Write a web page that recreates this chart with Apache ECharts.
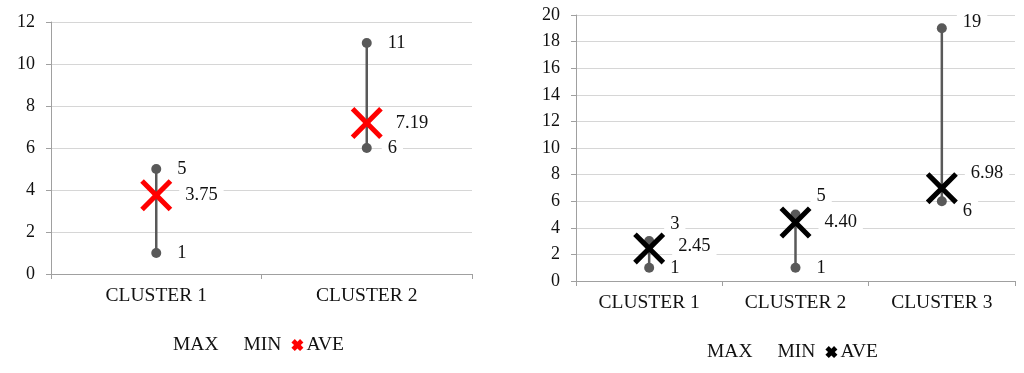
<!DOCTYPE html>
<html>
<head>
<meta charset="utf-8">
<script src="https://cdn.jsdelivr.net/npm/echarts@6/dist/echarts.min.js"></script>
<style>
  html, body { margin: 0; padding: 0; background: #fff; }
  #chart { width: 1024px; height: 373px; }
</style>
</head>
<body>
<div id="chart"></div>
<script>
// ---- data (left chart) ----
const leftCategories = ['CLUSTER 1', 'CLUSTER 2'];
const leftMax = [5, 11];
const leftMin = [1, 6];
const leftAve = [3.75, 7.19];
const leftTicks = { min: 0, max: 12, interval: 2 };

// ---- data (right chart) ----
const rightCategories = ['CLUSTER 1', 'CLUSTER 2', 'CLUSTER 3'];
const rightMax = [3, 5, 19];
const rightMin = [1, 1, 6];
const rightAve = [2.45, 4.40, 6.98];
const rightTicks = { min: 0, max: 20, interval: 2 };

const legendNames = ['MAX', 'MIN', 'AVE'];

// ---- styling / layout (not data) ----
const FONT = 'Liberation Serif';
const TEXT = '#111111';
const GRAY = '#595959';
const AXIS = '#a0a0a0';
const GRID = '#d6d6d6';
const X_PATH = 'path://M0,3.6 L3.6,0 L16,12.4 L28.4,0 L32,3.6 L19.6,16 L32,28.4 L28.4,32 L16,19.6 L3.6,32 L0,28.4 L12.4,16 Z';
const X_ICON = 'path://M0,4.5 L4.5,0 L8,3.5 L11.5,0 L16,4.5 L12.5,8 L16,11.5 L11.5,16 L8,12.5 L4.5,16 L0,11.5 L3.5,8 Z';
// vertical label shifts for the right chart (layout only)
const rightLabelShift = { MAX: [-17, -18, -6], MIN: [0, 0, 10], AVE: [-2, 0, -15] };

const chart = echarts.init(document.getElementById('chart'));

function labelCfg(distance, fmt) {
  return {
    show: true, position: 'right', distance: distance,
    fontFamily: FONT, fontSize: 18.5, color: TEXT,
    backgroundColor: '#fff', padding: [1, 6],
    formatter: fmt
  };
}

function buildSeries(gi, suffix, maxArr, minArr, aveArr, aveColor, shifts) {
  const mk = (arr, key) => arr.map((v, i) => {
    const item = { value: [i, v] };
    if (shifts) item.label = { offset: [0, shifts[key][i]] };
    return item;
  });
  return [
    {
      type: 'custom', name: 'range' + gi, xAxisIndex: gi, yAxisIndex: gi,
      data: maxArr.map((v, i) => [i, minArr[i], v]),
      encode: { x: 0, y: [1, 2] },
      renderItem: (params, api) => {
        const x = api.value(0);
        const p1 = api.coord([x, api.value(1)]);
        const p2 = api.coord([x, api.value(2)]);
        return { type: 'line', shape: { x1: p1[0], y1: p1[1], x2: p2[0], y2: p2[1] },
                 style: { stroke: GRAY, lineWidth: 2.5 } };
      },
      z: 1, silent: true
    },
    {
      type: 'scatter', name: legendNames[0] + suffix, xAxisIndex: gi, yAxisIndex: gi,
      symbol: 'circle', symbolSize: 10, itemStyle: { color: GRAY, opacity: 1 },
      label: labelCfg(10, p => String(p.value[1])),
      data: mk(maxArr, 'MAX'), z: 2
    },
    {
      type: 'scatter', name: legendNames[1] + suffix, xAxisIndex: gi, yAxisIndex: gi,
      symbol: 'circle', symbolSize: 10, itemStyle: { color: GRAY, opacity: 1 },
      label: labelCfg(10, p => String(p.value[1])),
      data: mk(minArr, 'MIN'), z: 2
    },
    {
      type: 'scatter', name: legendNames[2] + suffix, xAxisIndex: gi, yAxisIndex: gi,
      symbol: X_PATH, symbolSize: 32, itemStyle: { color: aveColor, opacity: 1 },
      label: labelCfg(7, p => p.value[1].toFixed(2)),
      data: mk(aveArr, 'AVE'), z: 3
    }
  ];
}

function xAxisCfg(gi, cats) {
  return {
    type: 'category', gridIndex: gi, data: cats, boundaryGap: true,
    axisLine: { show: true, lineStyle: { color: AXIS, width: 1 } },
    axisTick: { show: true, length: 5, lineStyle: { color: AXIS } },
    axisLabel: { fontFamily: FONT, fontSize: 19.5, color: TEXT, margin: 12 },
    splitLine: { show: false }
  };
}
function yAxisCfg(gi, t) {
  return {
    type: 'value', gridIndex: gi, min: t.min, max: t.max, interval: t.interval,
    axisLine: { show: true, lineStyle: { color: AXIS, width: 1 } },
    axisTick: { show: true, length: 5, lineStyle: { color: AXIS } },
    axisLabel: { fontFamily: FONT, fontSize: 18, color: TEXT, margin: 16 },
    splitLine: { show: true, lineStyle: { color: GRID, width: 1.2 } }
  };
}
function legendCfg(left, top, suffix) {
  return {
    left: left, top: top, orient: 'horizontal',
    itemWidth: 12, itemHeight: 12, itemGap: 10,
    textStyle: { fontFamily: FONT, fontSize: 19.5, color: TEXT, padding: [0, 0, 0, -2] },
    formatter: n => n.replace(suffix, ''),
    data: [
      { name: legendNames[0] + suffix, itemStyle: { color: 'rgba(0,0,0,0)', borderWidth: 0 } },
      { name: legendNames[1] + suffix, itemStyle: { color: 'rgba(0,0,0,0)', borderWidth: 0 } },
      { name: legendNames[2] + suffix, icon: X_ICON, itemWidth: 13, itemHeight: 13 }
    ],
    selectedMode: false
  };
}

const option = {
  animation: false,
  backgroundColor: '#fff',
  grid: [
    { left: 51, top: 22, width: 421, height: 252 },
    { left: 576, top: 15, width: 439, height: 266 }
  ],
  xAxis: [xAxisCfg(0, leftCategories), xAxisCfg(1, rightCategories)],
  yAxis: [yAxisCfg(0, leftTicks), yAxisCfg(1, rightTicks)],
  legend: [legendCfg(153, 330, '#L'), legendCfg(687, 337, '#R')],
  series: [
    ...buildSeries(0, '#L', leftMax, leftMin, leftAve, '#ff0000', null),
    ...buildSeries(1, '#R', rightMax, rightMin, rightAve, '#000000', rightLabelShift)
  ]
};
chart.setOption(option);
</script>
</body>
</html>
